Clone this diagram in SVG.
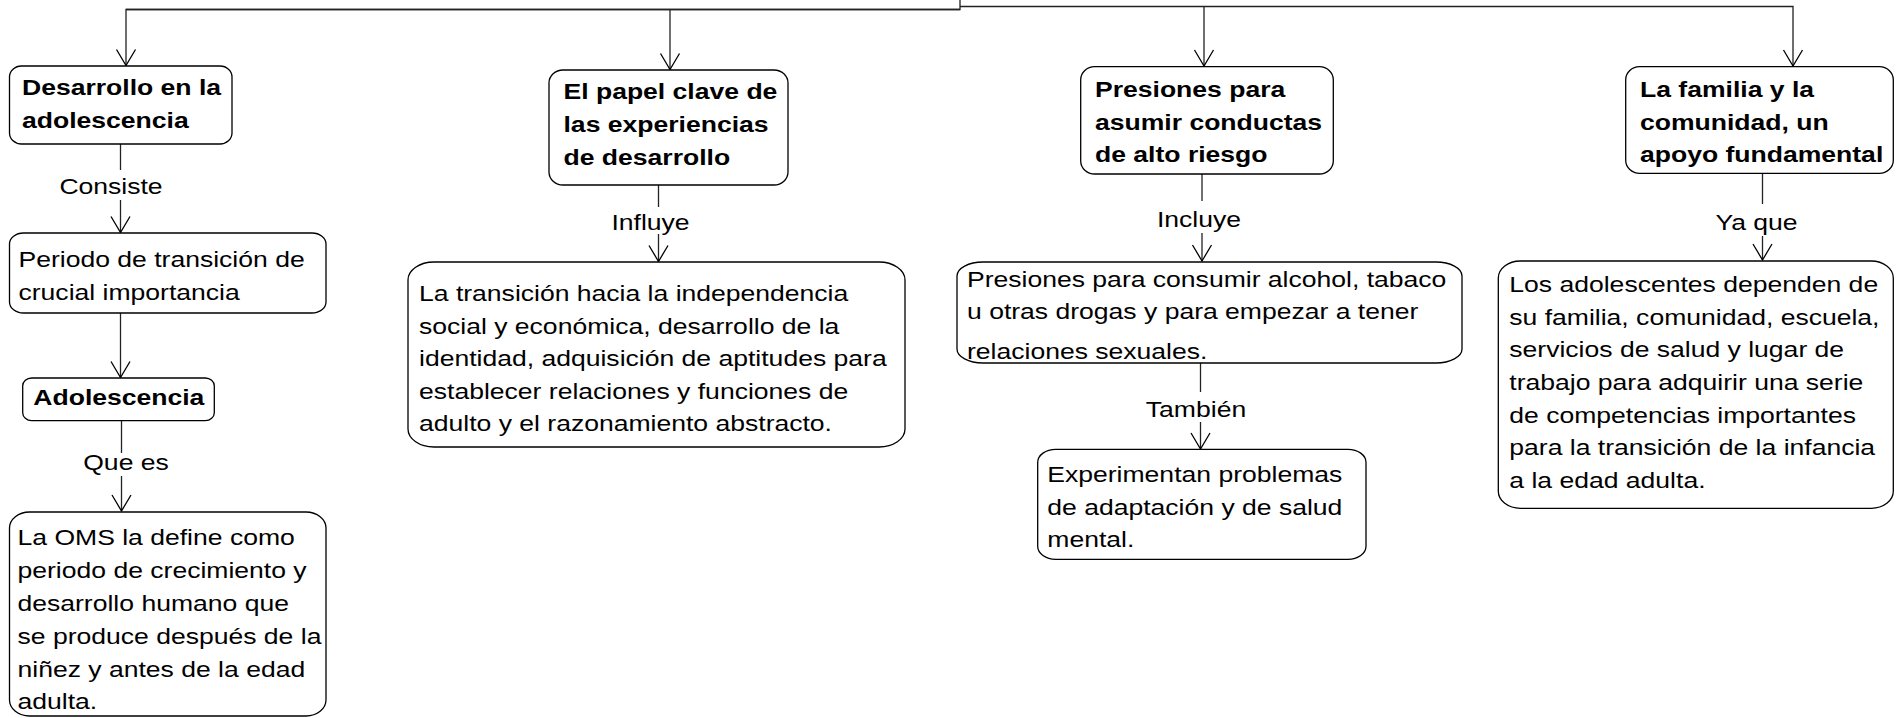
<svg xmlns="http://www.w3.org/2000/svg" width="1896" height="718" viewBox="0 0 1896 718">
<defs>
<style>
.box{fill:#fff;stroke:#000;stroke-width:1.3}
.ln{fill:none;stroke:#222;stroke-width:1.3}
.t{font-family:"Liberation Sans",Arial,sans-serif;font-size:22.5px;fill:#000}
.b{font-weight:bold}
.lb{font-family:"Liberation Sans",Arial,sans-serif;font-size:22.5px;fill:#000;text-anchor:middle}
</style>
<marker id="arr" markerWidth="20" markerHeight="24" viewBox="-18 -12 20 24" refX="0" refY="0" orient="auto" markerUnits="userSpaceOnUse">
<path d="M-16,-9.5 L0,0 L-16,9.5" fill="none" stroke="#000" stroke-width="1.3"/>
</marker>
</defs>
<rect width="1896" height="718" fill="#fff"/>

<g id="root">
<path class="ln" d="M126,9.5 H960 V-2"/>
</g>

<g id="connectors">
<path class="ln" d="M960,9.5 H126 V65.5" marker-end="url(#arr)"/>
<path class="ln" d="M670,9.5 V69.5" marker-end="url(#arr)"/>
<path class="ln" d="M960,6.5 H1793 V66" marker-end="url(#arr)"/>
<path class="ln" d="M1204,6.5 V66" marker-end="url(#arr)"/>

<path class="ln" d="M120.5,144 V170"/>
<path class="ln" d="M120.5,200 V232.5" marker-end="url(#arr)"/>
<path class="ln" d="M120.5,313 V377.5" marker-end="url(#arr)"/>
<path class="ln" d="M121.5,421 V453"/>
<path class="ln" d="M121.5,476 V511" marker-end="url(#arr)"/>

<path class="ln" d="M658.5,185 V207"/>
<path class="ln" d="M658.5,234 V261.5" marker-end="url(#arr)"/>

<path class="ln" d="M1202,174 V201"/>
<path class="ln" d="M1202,233 V261" marker-end="url(#arr)"/>
<path class="ln" d="M1200.5,363 V392"/>
<path class="ln" d="M1200.5,422 V449" marker-end="url(#arr)"/>

<path class="ln" d="M1762.5,173 V204"/>
<path class="ln" d="M1762.5,236 V260" marker-end="url(#arr)"/>

<text class="lb" transform="translate(111,194) scale(1.18,1)">Consiste</text>
<text class="lb" transform="translate(126,470) scale(1.18,1)">Que es</text>
<text class="lb" transform="translate(650.5,230) scale(1.18,1)">Influye</text>
<text class="lb" transform="translate(1199,226.5) scale(1.18,1)">Incluye</text>
<text class="lb" transform="translate(1196,417) scale(1.18,1)">También</text>
<text class="lb" transform="translate(1756.5,230) scale(1.18,1)">Ya que</text>
</g>

<g id="n-desarrollo">
<rect class="box" x="9.5" y="66" width="222.5" height="78" rx="12" ry="11"/>
<text class="t b" transform="translate(22,0) scale(1.18,1)"><tspan x="0" y="95">Desarrollo en la</tspan><tspan x="0" y="127.7">adolescencia</tspan></text>
</g>

<g id="n-periodo">
<rect class="box" x="9.5" y="233" width="316.5" height="80" rx="14" ry="11"/>
<text class="t" transform="translate(18.5,0) scale(1.18,1)"><tspan x="0" y="266.7">Periodo de transición de</tspan><tspan x="0" y="300">crucial importancia</tspan></text>
</g>

<g id="n-adolescencia">
<rect class="box" x="22.7" y="378" width="191.6" height="42.7" rx="9" ry="8"/>
<text class="t b" transform="translate(33.3,0) scale(1.18,1)"><tspan x="0" y="405.5">Adolescencia</tspan></text>
</g>

<g id="n-oms">
<rect class="box" x="9.5" y="512" width="316.5" height="204" rx="20" ry="16"/>
<text class="t" transform="translate(17.5,0) scale(1.18,1)"><tspan x="0" y="545">La OMS la define como</tspan><tspan x="0" y="578">periodo de crecimiento y</tspan><tspan x="0" y="611">desarrollo humano que</tspan><tspan x="0" y="644">se produce después de la</tspan><tspan x="0" y="677">niñez y antes de la edad</tspan><tspan x="0" y="709">adulta.</tspan></text>
</g>

<g id="n-papel">
<rect class="box" x="549" y="70" width="239" height="115" rx="14" ry="13"/>
<text class="t b" transform="translate(563.5,0) scale(1.18,1)"><tspan x="0" y="99">El papel clave de</tspan><tspan x="0" y="132">las experiencias</tspan><tspan x="0" y="165">de desarrollo</tspan></text>
</g>

<g id="n-transicion">
<rect class="box" x="408" y="262" width="497" height="185" rx="26" ry="18"/>
<text class="t" transform="translate(419,0) scale(1.18,1)"><tspan x="0" y="301.5">La transición hacia la independencia</tspan><tspan x="0" y="334">social y económica, desarrollo de la</tspan><tspan x="0" y="366.5">identidad, adquisición de aptitudes para</tspan><tspan x="0" y="399">establecer relaciones y funciones de</tspan><tspan x="0" y="431.5">adulto y el razonamiento abstracto.</tspan></text>
</g>

<g id="n-presiones">
<rect class="box" x="1080.7" y="66.7" width="252.6" height="107.3" rx="14" ry="13"/>
<text class="t b" transform="translate(1095,0) scale(1.18,1)"><tspan x="0" y="96.7">Presiones para</tspan><tspan x="0" y="130">asumir conductas</tspan><tspan x="0" y="162.3">de alto riesgo</tspan></text>
</g>

<g id="n-consumir">
<rect class="box" x="957" y="262" width="505" height="101" rx="26" ry="14"/>
<text class="t" transform="translate(967,0) scale(1.18,1)"><tspan x="0" y="287">Presiones para consumir alcohol, tabaco</tspan><tspan x="0" y="319">u otras drogas y para empezar a tener</tspan><tspan x="0" y="359">relaciones sexuales.</tspan></text>
</g>

<g id="n-experimentan">
<rect class="box" x="1037.7" y="449.3" width="328.3" height="110" rx="18" ry="13"/>
<text class="t" transform="translate(1047.3,0) scale(1.18,1)"><tspan x="0" y="481.7">Experimentan problemas</tspan><tspan x="0" y="515">de adaptación y de salud</tspan><tspan x="0" y="547.3">mental.</tspan></text>
</g>

<g id="n-familia">
<rect class="box" x="1625.7" y="66.7" width="267.6" height="106.6" rx="14" ry="13"/>
<text class="t b" transform="translate(1640,0) scale(1.18,1)"><tspan x="0" y="96.7">La familia y la</tspan><tspan x="0" y="130">comunidad, un</tspan><tspan x="0" y="162.3">apoyo fundamental</tspan></text>
</g>

<g id="n-dependen">
<rect class="box" x="1498.3" y="261" width="395" height="247.3" rx="22" ry="17"/>
<text class="t" transform="translate(1509.3,0) scale(1.18,1)"><tspan x="0" y="292">Los adolescentes dependen de</tspan><tspan x="0" y="324.7">su familia, comunidad, escuela,</tspan><tspan x="0" y="357">servicios de salud y lugar de</tspan><tspan x="0" y="389.7">trabajo para adquirir una serie</tspan><tspan x="0" y="422.7">de competencias importantes</tspan><tspan x="0" y="455.3">para la transición de la infancia</tspan><tspan x="0" y="488">a la edad adulta.</tspan></text>
</g>
</svg>
